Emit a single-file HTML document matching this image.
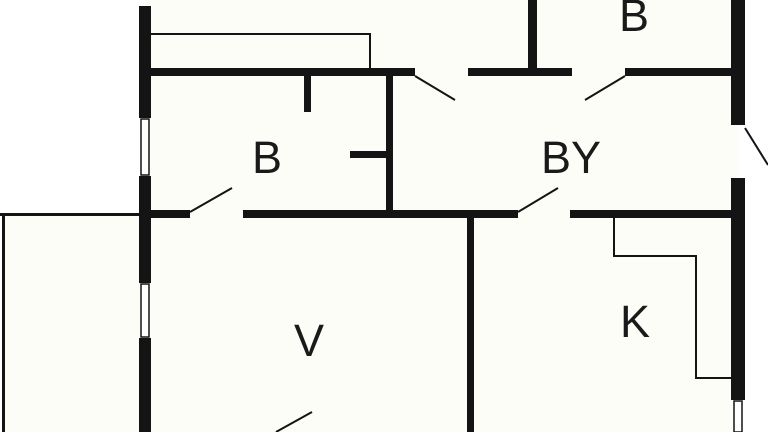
<!DOCTYPE html>
<html><head><meta charset="utf-8"><style>
html,body{margin:0;padding:0;background:#fff;}
svg{display:block}
text{font-family:"Liberation Sans",sans-serif;font-size:45px;fill:#1a1a1a;text-anchor:middle}
</style></head><body>
<svg width="768" height="432" viewBox="0 0 768 432" xmlns="http://www.w3.org/2000/svg">
<rect x="0" y="0" width="768" height="432" fill="#fff"/>
<!-- interior -->
<rect x="145" y="0" width="593" height="432" fill="#fdfdf8"/>
<rect x="3" y="214" width="137" height="218" fill="#fdfdf8"/>
<g fill="#141414">
<!-- left outer wall -->
<rect x="139" y="6" width="12" height="112"/>
<rect x="139" y="176" width="12" height="107"/>
<rect x="139" y="338" width="12" height="94"/>
<!-- right outer wall -->
<rect x="731" y="0" width="14" height="125"/>
<rect x="731" y="178" width="14" height="222"/>
<!-- top horizontal wall -->
<rect x="151" y="68" width="264" height="8"/>
<rect x="468" y="68" width="104" height="8"/>
<rect x="625" y="68" width="106" height="8"/>
<rect x="528" y="0" width="9" height="72"/>
<!-- room B walls -->
<rect x="386" y="76" width="7" height="136"/>
<rect x="304" y="76" width="7" height="36"/>
<rect x="350" y="151" width="36" height="7"/>
<!-- middle horizontal wall -->
<rect x="151" y="210" width="39" height="8"/>
<rect x="243" y="210" width="275" height="8"/>
<rect x="570" y="210" width="161" height="8"/>
<rect x="467" y="218" width="7" height="214"/>
<!-- left exterior lines -->
<rect x="0" y="213" width="139" height="3"/>
<rect x="2" y="214" width="3" height="218"/>
</g>
<!-- window outlines -->
<g fill="#fff" stroke="#141414" stroke-width="1.5">
<rect x="141" y="119" width="8" height="56"/>
<rect x="141" y="284" width="8" height="53"/>
<rect x="734" y="401" width="8" height="31"/>
</g>
<g stroke="#141414" stroke-width="2" fill="none">
<polyline points="151,34 370,34 370,70"/>
<polyline points="614,218 614,256 696,256 696,378 731,378"/>
<line x1="415" y1="76" x2="455" y2="100"/>
<line x1="625" y1="76" x2="585" y2="100"/>
<line x1="745" y1="128" x2="768" y2="165"/>
<line x1="190" y1="212" x2="232" y2="188"/>
<line x1="518" y1="212" x2="558" y2="188"/>
<line x1="312" y1="412" x2="276" y2="432"/>
</g>
<text x="634" y="31">B</text>
<text x="267" y="173">B</text>
<text x="571" y="173">BY</text>
<text x="309" y="356">V</text>
<text x="635" y="337">K</text>
</svg>
</body></html>
